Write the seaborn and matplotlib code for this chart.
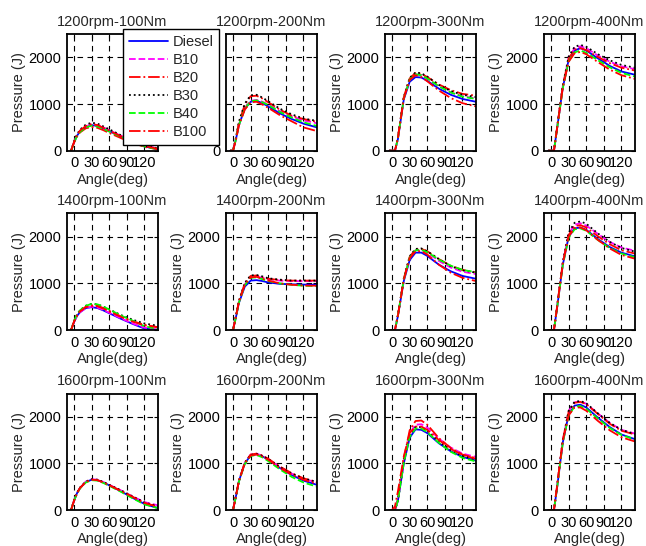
import matplotlib
matplotlib.use("Agg")
import matplotlib.pyplot as plt
import seaborn as sns

angles = [-5, 0, 5, 10, 20, 30, 40, 50, 60, 80, 100, 120, 143]

fuels = ["Diesel", "B10", "B20", "B30", "B40", "B100"]
colors = ["#0000ff", "#ff00ff", "#ff0000", "#000000", "#00ff00", "#ff0000"]
styles = ["-", "--", "-.", ":", "--", "-."]

titles = ["1200rpm-100Nm", "1200rpm-200Nm", "1200rpm-300Nm", "1200rpm-400Nm",
          "1400rpm-100Nm", "1400rpm-200Nm", "1400rpm-300Nm", "1400rpm-400Nm",
          "1600rpm-100Nm", "1600rpm-200Nm", "1600rpm-300Nm", "1600rpm-400Nm"]

# one list per fuel, same order as fuels
hr_1200_100 = [
    [0, 180, 320, 410, 510, 550, 530, 480, 420, 300, 190, 90, 30],
    [0, 190, 330, 420, 520, 570, 550, 500, 440, 320, 210, 110, 50],
    [0, 170, 300, 390, 480, 510, 490, 440, 380, 270, 170, 80, 30],
    [0, 200, 350, 450, 560, 600, 580, 520, 460, 330, 220, 110, 50],
    [0, 180, 310, 400, 500, 540, 520, 470, 410, 300, 190, 90, 30],
    [0, 190, 330, 430, 530, 570, 550, 490, 430, 310, 200, 100, 40]]
hr_1200_200 = [
    [0, 0, 250, 550, 900, 1050, 1070, 1020, 950, 800, 680, 580, 500],
    [0, 0, 260, 560, 910, 1070, 1090, 1050, 990, 850, 740, 650, 590],
    [0, 0, 270, 600, 990, 1170, 1180, 1120, 1040, 880, 750, 680, 620],
    [0, 0, 280, 620, 1010, 1190, 1200, 1140, 1060, 900, 780, 690, 640],
    [0, 0, 250, 550, 900, 1060, 1080, 1040, 980, 830, 710, 610, 530],
    [0, 0, 240, 540, 880, 1040, 1050, 990, 920, 760, 630, 500, 420]]
hr_1200_300 = [
    [0, 0, 0, 250, 1100, 1480, 1580, 1570, 1500, 1330, 1200, 1110, 1050],
    [0, 0, 0, 270, 1130, 1530, 1640, 1620, 1550, 1380, 1250, 1170, 1120],
    [0, 0, 0, 280, 1150, 1550, 1670, 1650, 1580, 1420, 1300, 1220, 1180],
    [0, 0, 0, 280, 1150, 1560, 1680, 1660, 1590, 1410, 1280, 1200, 1150],
    [0, 0, 0, 260, 1120, 1530, 1640, 1620, 1550, 1380, 1250, 1160, 1110],
    [0, 0, 0, 270, 1120, 1520, 1620, 1580, 1490, 1290, 1130, 1020, 950]]
hr_1200_400 = [
    [0, 0, 0, 450, 1350, 1950, 2150, 2200, 2150, 1980, 1820, 1700, 1630],
    [0, 0, 0, 460, 1380, 1990, 2200, 2240, 2200, 2040, 1910, 1810, 1750],
    [0, 0, 0, 470, 1390, 1980, 2170, 2200, 2160, 2010, 1880, 1780, 1720],
    [0, 0, 0, 470, 1400, 2020, 2230, 2270, 2230, 2070, 1940, 1840, 1780],
    [0, 0, 0, 450, 1340, 1920, 2110, 2150, 2100, 1940, 1790, 1670, 1590],
    [0, 0, 0, 460, 1350, 1910, 2090, 2120, 2070, 1900, 1740, 1620, 1540]]
hr_1400_100 = [
    [0, 170, 300, 380, 470, 490, 470, 420, 360, 240, 130, 30, 0],
    [0, 170, 300, 380, 470, 500, 480, 430, 370, 250, 140, 50, 10],
    [0, 180, 320, 400, 500, 530, 520, 470, 410, 290, 190, 110, 60],
    [0, 190, 330, 420, 520, 560, 550, 500, 440, 320, 220, 140, 90],
    [0, 190, 330, 420, 520, 560, 550, 500, 440, 310, 200, 80, 20],
    [0, 180, 310, 400, 490, 520, 510, 460, 400, 280, 180, 100, 60]]
hr_1400_200 = [
    [0, 0, 280, 580, 930, 1060, 1070, 1050, 1020, 990, 980, 975, 970],
    [0, 0, 290, 600, 980, 1140, 1150, 1120, 1090, 1060, 1050, 1050, 1050],
    [0, 0, 300, 620, 1000, 1160, 1170, 1130, 1100, 1070, 1060, 1060, 1060],
    [0, 0, 300, 620, 1010, 1170, 1180, 1150, 1110, 1080, 1060, 1060, 1060],
    [0, 0, 280, 590, 960, 1120, 1130, 1090, 1050, 1000, 970, 950, 940],
    [0, 0, 290, 600, 970, 1130, 1140, 1100, 1060, 1000, 970, 955, 950]]
hr_1400_300 = [
    [0, 0, 0, 300, 1050, 1500, 1660, 1660, 1590, 1400, 1260, 1160, 1100],
    [0, 0, 0, 310, 1080, 1550, 1710, 1720, 1660, 1480, 1340, 1250, 1200],
    [0, 0, 0, 320, 1100, 1570, 1730, 1740, 1690, 1520, 1380, 1290, 1240],
    [0, 0, 0, 320, 1100, 1580, 1740, 1750, 1690, 1520, 1370, 1280, 1230],
    [0, 0, 0, 310, 1080, 1550, 1710, 1720, 1670, 1510, 1380, 1290, 1240],
    [0, 0, 0, 310, 1080, 1540, 1690, 1690, 1620, 1400, 1230, 1120, 1050]]
hr_1400_400 = [
    [0, 0, 0, 450, 1400, 2000, 2180, 2200, 2150, 1950, 1780, 1660, 1580],
    [0, 0, 0, 460, 1430, 2060, 2260, 2290, 2240, 2060, 1890, 1770, 1700],
    [0, 0, 0, 470, 1440, 2040, 2230, 2250, 2200, 2010, 1840, 1710, 1640],
    [0, 0, 0, 470, 1450, 2090, 2300, 2330, 2280, 2070, 1890, 1760, 1680],
    [0, 0, 0, 450, 1390, 1980, 2160, 2180, 2130, 1930, 1760, 1640, 1560],
    [0, 0, 0, 470, 1420, 2010, 2180, 2200, 2140, 1930, 1750, 1610, 1530]]
hr_1600_100 = [
    [0, 200, 360, 470, 600, 650, 640, 590, 530, 400, 260, 130, 40],
    [0, 200, 360, 470, 610, 660, 650, 600, 540, 420, 290, 170, 100],
    [0, 200, 360, 470, 600, 650, 640, 590, 530, 410, 280, 150, 70],
    [0, 210, 370, 480, 610, 660, 650, 600, 540, 420, 290, 160, 80],
    [0, 200, 350, 460, 590, 640, 630, 580, 520, 390, 250, 120, 40],
    [0, 200, 360, 470, 600, 650, 640, 590, 530, 410, 280, 150, 70]]
hr_1600_200 = [
    [0, 0, 300, 620, 1000, 1170, 1200, 1150, 1080, 900, 750, 630, 540],
    [0, 0, 300, 620, 1010, 1190, 1210, 1160, 1090, 920, 780, 670, 590],
    [0, 0, 310, 630, 1020, 1190, 1210, 1170, 1100, 930, 790, 680, 600],
    [0, 0, 300, 620, 1010, 1180, 1200, 1160, 1090, 920, 780, 680, 600],
    [0, 0, 290, 610, 990, 1160, 1180, 1130, 1050, 870, 710, 590, 500],
    [0, 0, 300, 620, 1000, 1170, 1190, 1150, 1080, 900, 760, 650, 560]]
hr_1600_300 = [
    [0, 0, 0, 200, 1000, 1550, 1730, 1720, 1650, 1430, 1260, 1140, 1060],
    [0, 0, 0, 210, 1050, 1640, 1830, 1840, 1770, 1530, 1340, 1210, 1140],
    [0, 0, 0, 230, 1100, 1710, 1910, 1920, 1830, 1540, 1330, 1190, 1110],
    [0, 0, 0, 210, 1030, 1590, 1780, 1780, 1700, 1470, 1290, 1160, 1080],
    [0, 0, 0, 200, 1010, 1570, 1750, 1750, 1670, 1440, 1250, 1120, 1040],
    [0, 0, 80, 400, 1150, 1650, 1790, 1790, 1720, 1500, 1310, 1180, 1100]]
hr_1600_400 = [
    [0, 0, 0, 450, 1450, 2050, 2240, 2260, 2200, 1980, 1780, 1620, 1520],
    [0, 0, 0, 470, 1490, 2120, 2310, 2330, 2280, 2070, 1870, 1720, 1640],
    [0, 0, 0, 480, 1500, 2110, 2300, 2320, 2270, 2060, 1850, 1700, 1620],
    [0, 0, 0, 470, 1500, 2130, 2320, 2340, 2290, 2070, 1870, 1720, 1630],
    [0, 0, 0, 450, 1440, 2030, 2220, 2230, 2170, 1960, 1760, 1610, 1510],
    [0, 0, 0, 490, 1480, 2030, 2200, 2200, 2130, 1910, 1710, 1560, 1470]]

panels = [hr_1200_100, hr_1200_200, hr_1200_300, hr_1200_400,
          hr_1400_100, hr_1400_200, hr_1400_300, hr_1400_400,
          hr_1600_100, hr_1600_200, hr_1600_300, hr_1600_400]

sns.set_style("white")
plt.rcParams["font.family"] = ["Liberation Sans", "DejaVu Sans"]
fs = 10.5

W, H = 646, 546
fig = plt.figure(figsize=(W / 100, H / 100), dpi=100)

lefts = [67, 226, 385, 544]
bottoms = [150.7, 330, 510]
aw, ah = 91, 116.5

axes = []
for i, data in enumerate(panels):
    r, c = divmod(i, 4)
    ax = fig.add_axes([lefts[c] / W, 1 - bottoms[r] / H, aw / W, ah / H])
    for vals, name, col, ls in zip(data, fuels, colors, styles):
        sns.lineplot(x=angles, y=vals, ax=ax, color=col, linestyle=ls,
                     linewidth=1.3, label=name, legend=False)
    ax.set_xlim(-12, 143)
    ax.set_ylim(0, 2500)
    ax.set_xticks([0, 30, 60, 90, 120])
    ax.set_yticks([0, 1000, 2000])
    ax.grid(True, color="black", linestyle=(0, (5, 4)), linewidth=0.8)
    ax.tick_params(direction="in", length=3, width=0.8, top=True, right=True,
                   labelsize=fs, pad=4, colors="black")
    for sp in ax.spines.values():
        sp.set_color("black")
        sp.set_linewidth(1.3)
    ax.set_title(titles[i], fontsize=fs, pad=6)
    ax.set_xlabel("Angle(deg)", fontsize=fs, labelpad=2)
    ax.set_ylabel("Pressure (J)", fontsize=fs, labelpad=2)
    axes.append(ax)

handles, labels = axes[0].get_legend_handles_labels()
leg = fig.legend(handles, labels, loc="upper left",
                 bbox_to_anchor=(122.7 / W, 1 - 29 / H - 0.3, 96 / W, 0.3),
                 mode="expand", borderaxespad=0, fancybox=False, framealpha=1,
                 edgecolor="black", handlelength=2.7, handletextpad=0.3,
                 labelspacing=0.28, borderpad=0.4, fontsize=fs)
leg.get_frame().set_linewidth(1.0)

fig.savefig("out.png", dpi=100)
